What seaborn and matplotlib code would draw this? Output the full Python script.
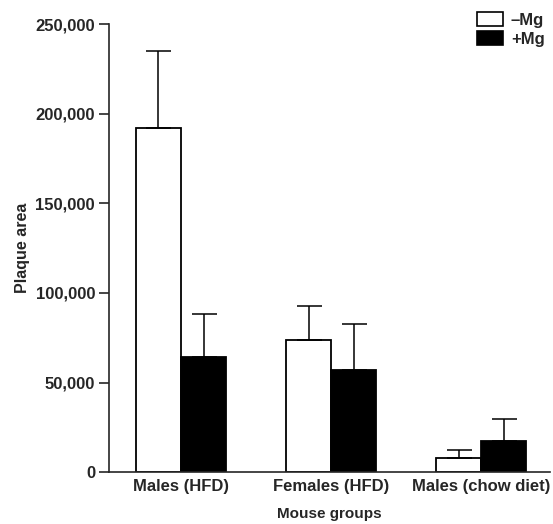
import matplotlib
matplotlib.use("Agg")
import matplotlib.pyplot as plt
from matplotlib.patches import Patch
import seaborn as sns
import pandas as pd

groups = ["Males (HFD)", "Females (HFD)", "Males (chow diet)"]
treatments = ["\u2013Mg", "+Mg"]
minus_mg = [192000, 73500, 8000]
plus_mg = [64000, 57000, 17500]
minus_err = [43000, 19000, 4300]
plus_err = [24500, 25500, 12000]
yticks = [0, 50000, 100000, 150000, 200000, 250000]

sns.set_style("ticks")
plt.rcParams['font.family'] = ['Liberation Sans', 'DejaVu Sans']

df = pd.DataFrame({
    "group": groups * 2,
    "treatment": [treatments[0]] * 3 + [treatments[1]] * 3,
    "area": minus_mg + plus_mg,
    "err": minus_err + plus_err,
})

fig = plt.figure(figsize=(5.53, 5.24), dpi=100)
ax = fig.add_axes([0.197, 0.099, 0.798, 0.855])

sns.barplot(data=df, x="group", y="area", hue="treatment", order=groups,
            hue_order=treatments, palette=["white", "black"], edgecolor="black",
            linewidth=1.3, width=0.6, errorbar=None, legend=False, ax=ax)

# error bars (upper only) placed from the bar patches
bars = [p for p in ax.patches if p.get_height() > 0]
errs = minus_err + plus_err
for p, e in zip(bars, errs):
    xc = p.get_x() + p.get_width() / 2
    ax.errorbar([xc], [p.get_height()], yerr=[[0], [e]], fmt="none",
                ecolor="black", elinewidth=1.1, capsize=9, capthick=1.1, zorder=1)

ax.set_ylim(0, 250000)
ax.set_xlim(-0.48, 2.46)
ax.set_yticks(yticks)
ax.set_yticklabels([f"{v:,}" for v in yticks], fontsize=12, fontweight="bold")
ax.tick_params(axis="y", direction="out", length=7, width=1.2, pad=3)
ax.tick_params(axis="x", length=0, pad=5)
for lbl in ax.get_xticklabels():
    lbl.set_fontsize(12)
    lbl.set_fontweight("bold")
ax.set_xlabel("Mouse groups", fontsize=11, fontweight="bold", labelpad=9)
ax.set_ylabel("Plaque area", fontsize=11.5, fontweight="bold", labelpad=4)
sns.despine(ax=ax)
ax.spines["left"].set_linewidth(1.2)
ax.spines["bottom"].set_linewidth(1.2)

handles = [Patch(facecolor="white", edgecolor="black", linewidth=1.2, label=treatments[0]),
           Patch(facecolor="black", edgecolor="black", linewidth=1.2, label=treatments[1])]
leg = fig.legend(handles=handles, loc="upper right", bbox_to_anchor=(0.985, 0.977),
                 bbox_transform=fig.transFigure,
                 frameon=False, fontsize=12, handlelength=1.55, handleheight=0.9,
                 labelspacing=0.2, handletextpad=0.5, borderaxespad=0.0,
                 borderpad=0.0)
for t in leg.get_texts():
    t.set_fontweight("bold")

fig.savefig("out.png", dpi=100)
